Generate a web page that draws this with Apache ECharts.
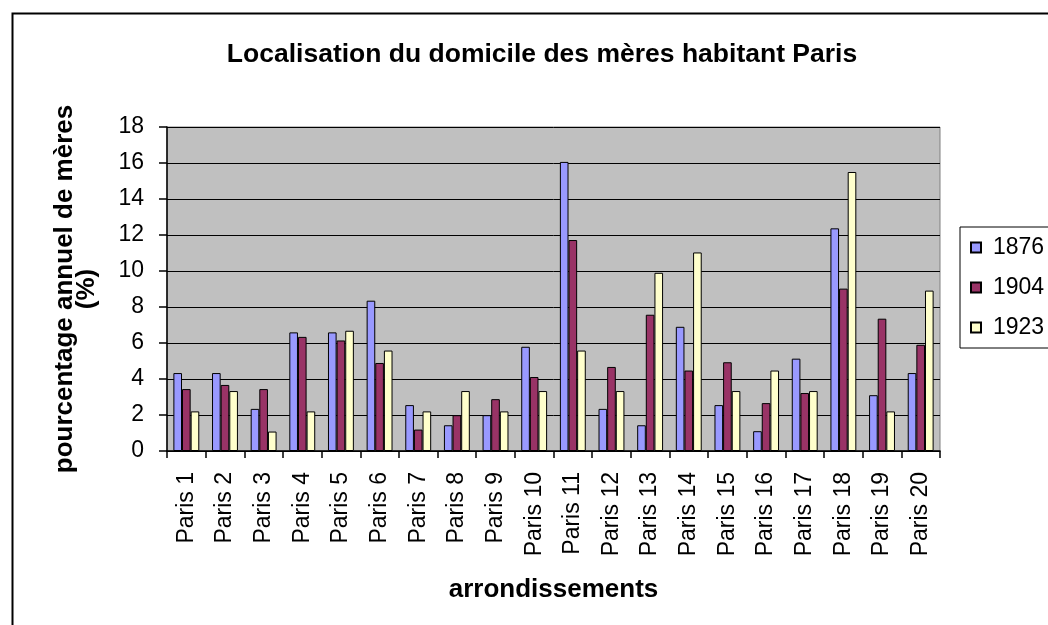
<!DOCTYPE html>
<html>
<head>
<meta charset="utf-8">
<script src="https://cdn.jsdelivr.net/npm/echarts@6/dist/echarts.min.js"></script>
<style>
  html, body { margin: 0; padding: 0; background: #fff; }
  #chart { width: 1048px; height: 625px; }
</style>
</head>
<body>
<div id="chart"></div>
<script>
const arrondissements = ['Paris 1', 'Paris 2', 'Paris 3', 'Paris 4', 'Paris 5', 'Paris 6', 'Paris 7', 'Paris 8', 'Paris 9', 'Paris 10',
  'Paris 11', 'Paris 12', 'Paris 13', 'Paris 14', 'Paris 15', 'Paris 16', 'Paris 17', 'Paris 18', 'Paris 19', 'Paris 20']
const v1876 = [4.33, 4.33, 2.34, 6.59, 6.59, 8.35, 2.55, 1.43, 1.99, 5.79, 16.06, 2.34, 1.43, 6.9, 2.55, 1.1, 5.13, 12.37, 3.1, 4.33]
const v1904 = [3.44, 3.67, 3.44, 6.34, 6.14, 4.89, 1.19, 1.99, 2.88, 4.11, 11.72, 4.67, 7.57, 4.47, 4.93, 2.66, 3.22, 9.02, 7.35, 5.9]
const v1923 = [2.2, 3.33, 1.08, 2.2, 6.68, 5.58, 2.2, 3.33, 2.2, 3.33, 5.58, 3.33, 9.9, 11.03, 3.33, 4.47, 3.33, 15.5, 2.2, 8.91]

const font = 'Arial, "Liberation Sans", sans-serif'

const chart = echarts.init(document.getElementById('chart'))

function bar(name, data, color) {
  return {
    name: name,
    type: 'bar',
    data: data,
    barGap: '0%',
    barCategoryGap: '33%',
    itemStyle: { color: color, borderColor: '#000', borderWidth: 1 }
  }
}

chart.setOption({
  animation: false,
  textStyle: { fontFamily: font },
  graphic: [
    {
      type: 'rect',
      shape: { x: 12.5, y: 13.5, width: 1100, height: 700 },
      style: { fill: 'none', stroke: '#000', lineWidth: 2 },
      silent: true
    }
  ],
  title: {
    text: 'Localisation du domicile des mères habitant Paris',
    left: 537,
    textAlign: 'center',
    top: 36,
    textStyle: { fontFamily: font, fontSize: 26.5, fontWeight: 'bold', color: '#000' }
  },
  legend: {
    orient: 'vertical',
    left: 960,
    top: 227,
    padding: [9, 40, 9, 10],
    borderColor: '#000',
    borderWidth: 1,
    icon: 'rect',
    itemWidth: 10,
    itemHeight: 10,
    itemGap: 17,
    textStyle: { fontFamily: font, fontSize: 23, color: '#000', padding: [0, 0, 0, 7] },
    data: ['1876', '1904', '1923']
  },
  grid: {
    left: 167,
    right: 108,
    top: 127,
    bottom: 174,
    show: true,
    backgroundColor: '#c0c0c0',
    borderColor: '#808080',
    borderWidth: 1
  },
  xAxis: {
    type: 'category',
    data: arrondissements,
    name: 'arrondissements',
    nameLocation: 'middle',
    nameGap: 126,
    nameTextStyle: { fontFamily: font, fontSize: 26, fontWeight: 'bold', color: '#000' },
    axisLine: { lineStyle: { color: '#000', width: 1.5 } },
    axisTick: { show: true, length: 7, lineStyle: { color: '#000', width: 1.5 } },
    axisLabel: { rotate: 90, fontSize: 23, color: '#000', margin: 21, fontFamily: font }
  },
  yAxis: {
    type: 'value',
    min: 0,
    max: 18,
    interval: 2,
    name: 'pourcentage annuel de mères\n(%)',
    nameLocation: 'middle',
    nameRotate: 90,
    nameGap: 69,
    nameTextStyle: { fontFamily: font, fontSize: 26, fontWeight: 'bold', color: '#000', lineHeight: 22 },
    axisLine: { show: true, lineStyle: { color: '#000', width: 1.5 } },
    axisTick: { show: true, length: 8, lineStyle: { color: '#000', width: 1.5 } },
    axisLabel: { fontSize: 23, color: '#000', margin: 23, fontFamily: font },
    splitLine: { lineStyle: { color: '#000', width: 1 } }
  },
  series: [
    bar('1876', v1876, '#9999ff'),
    bar('1904', v1904, '#993366'),
    bar('1923', v1923, '#ffffcc')
  ]
})
</script>
</body>
</html>
